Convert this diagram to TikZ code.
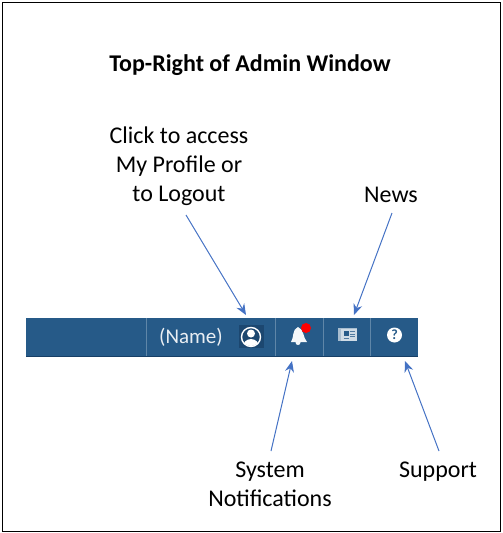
\documentclass[tikz,border=0pt]{standalone}
\usepackage{tikz}
\usepackage{xcolor}
\usepackage{fontspec}
\setmainfont{Carlito}
\definecolor{barblue}{HTML}{265A88}
\definecolor{bardark}{HTML}{173F66}
\definecolor{barline}{HTML}{5F86A8}
\definecolor{arrowblue}{HTML}{4472C4}
\usetikzlibrary{arrows.meta}
\tikzset{
  lbl/.style={font=\fontsize{24}{29}\selectfont, align=center, inner sep=0pt, text=black},
  pointer/.style={draw=arrowblue, line width=1pt, -{Stealth[length=11pt,width=9pt]}},
  divider/.style={draw=barline, line width=1pt}
}
\begin{document}
\begin{tikzpicture}[x=1pt,y=-1pt]
        \useasboundingbox (0,0) rectangle (503,533);
        % Frame
        \draw[black, line width=1pt] (2,2) rectangle (500,531);
        \node[lbl, font=\fontsize{24}{29}\selectfont\bfseries] (title) at (250,65) {Top-Right of Admin Window};

        % Bar
        \fill[barblue] (26,318) rectangle (418,357);
        \draw[bardark, line width=1pt] (26,356.5) -- (418,356.5);
        \foreach \xpos in {146,275,323,370} {
            \draw[divider] (\xpos,318) -- (\xpos,356);
        }
        \node[font=\fontsize{21}{24}\selectfont, text=white!90!barblue, inner sep=0pt] (name) at (191,337) {(Name)};

        % Profile icon
        \fill[bardark!70!barblue] (239,325) rectangle (264,348);
        \draw[white, line width=1.4pt] (251,337) circle (9.5);
        \begin{scope}
            \clip (251,337) circle (9);
            \fill[white] (251,333.5) circle (4);
            \fill[white] (251,347) ellipse (8 and 8);
        \end{scope}

        % Bell icon
        \fill[white!95!barblue] (291,342) .. controls (294,338) and (292,329) .. (298,327)
            .. controls (304,329) and (303,338) .. (307,342) -- cycle;
        \fill[white!95!barblue] (298,342.5) circle (2.5);
        \fill[red] (306,328) circle (5);

        % News icon
        \fill[white!60!barblue] (338,328) rectangle (357,341);
        \fill[white!78!barblue] (341,328.5) rectangle (356.5,340.5);
        \fill[barblue] (344,331) rectangle (348.5,335.5);
        \foreach \ypos in {331.5,334,336.5} {
            \draw[barblue!80!white, line width=0.7pt] (350,\ypos) -- (355,\ypos);
        }
        \draw[barblue!80!white, line width=0.7pt] (343.5,338) -- (349,338);

        % Help icon
        \fill[white] (394.5,335) circle (7.5);
        \node[font=\fontsize{14}{14}\selectfont\bfseries, text=barblue, inner sep=0pt] (help) at (394.5,335) {?};

        % Labels
        \node[lbl] (profile) at (179,166) {Click to access\\My Profile or\\to Logout};
        \node[lbl] (news) at (391,194.5) {News};
        \node[lbl] (system) at (270,484) {System\\Notifications};
        \node[lbl] (support) at (438,471.5) {Support};

        % Arrows
        \coordinate (profilefrom) at (186,215);
        \coordinate (profileto) at (246,315);
        \coordinate (newsfrom) at (392,213);
        \coordinate (newsto) at (354,315);
        \coordinate (systemfrom) at (271,451);
        \coordinate (systemto) at (292,361);
        \coordinate (supportfrom) at (439,451);
        \coordinate (supportto) at (405,361);
        \draw[pointer] (profilefrom) -- (profileto);
        \draw[pointer] (newsfrom) -- (newsto);
        \draw[pointer] (systemfrom) -- (systemto);
        \draw[pointer] (supportfrom) -- (supportto);
    \end{tikzpicture}
\end{document}
